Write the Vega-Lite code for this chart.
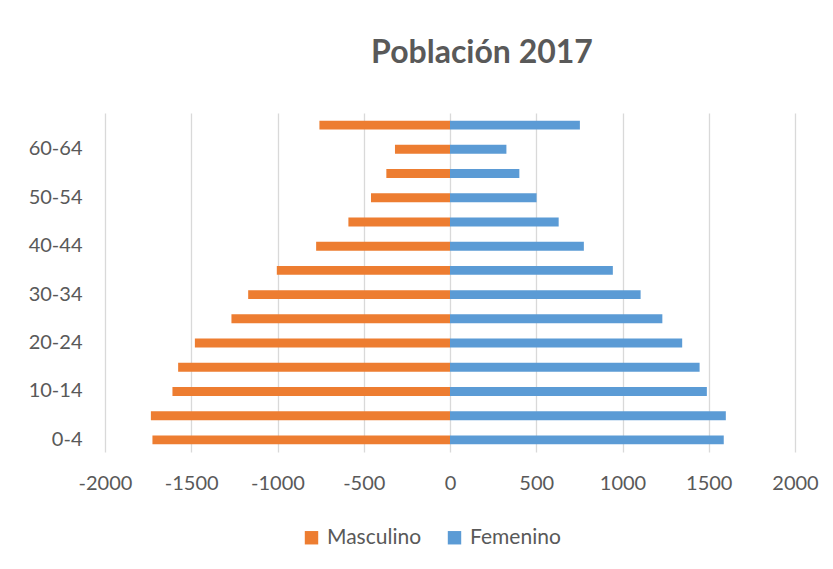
{
  "$schema": "https://vega.github.io/schema/vega-lite/v6.json",
  "width": 690,
  "height": 339,
  "autosize": {"type": "none"},
  "padding": {"left": 105, "top": 113, "right": 38, "bottom": 117},
  "background": "white",
  "title": {
    "text": "Población 2017",
    "font": "Lato",
    "fontSize": 32,
    "fontWeight": "bold",
    "color": "#595959",
    "anchor": "middle",
    "dx": 32,
    "offset": 43
  },
  "data": {
    "values": [
      {"age": "0-4", "sex": "Masculino", "value": -1725},
      {"age": "5-9", "sex": "Masculino", "value": -1734},
      {"age": "10-14", "sex": "Masculino", "value": -1609},
      {"age": "15-19", "sex": "Masculino", "value": -1576},
      {"age": "20-24", "sex": "Masculino", "value": -1479},
      {"age": "25-29", "sex": "Masculino", "value": -1267},
      {"age": "30-34", "sex": "Masculino", "value": -1170},
      {"age": "35-39", "sex": "Masculino", "value": -1004},
      {"age": "40-44", "sex": "Masculino", "value": -776},
      {"age": "45-49", "sex": "Masculino", "value": -589},
      {"age": "50-54", "sex": "Masculino", "value": -458},
      {"age": "55-59", "sex": "Masculino", "value": -369},
      {"age": "60-64", "sex": "Masculino", "value": -319},
      {"age": "65+", "sex": "Masculino", "value": -757},
      {"age": "0-4", "sex": "Femenino", "value": 1587},
      {"age": "5-9", "sex": "Femenino", "value": 1599},
      {"age": "10-14", "sex": "Femenino", "value": 1489},
      {"age": "15-19", "sex": "Femenino", "value": 1447},
      {"age": "20-24", "sex": "Femenino", "value": 1346},
      {"age": "25-29", "sex": "Femenino", "value": 1231},
      {"age": "30-34", "sex": "Femenino", "value": 1105},
      {"age": "35-39", "sex": "Femenino", "value": 944},
      {"age": "40-44", "sex": "Femenino", "value": 776},
      {"age": "45-49", "sex": "Femenino", "value": 630},
      {"age": "50-54", "sex": "Femenino", "value": 502},
      {"age": "55-59", "sex": "Femenino", "value": 402},
      {"age": "60-64", "sex": "Femenino", "value": 327},
      {"age": "65+", "sex": "Femenino", "value": 753}
    ]
  },
  "mark": {"type": "bar"},
  "encoding": {
    "y": {
      "field": "age",
      "type": "nominal",
      "sort": ["65+", "60-64", "55-59", "50-54", "45-49", "40-44", "35-39", "30-34", "25-29", "20-24", "15-19", "10-14", "5-9", "0-4"],
      "scale": {"paddingInner": 0.63, "paddingOuter": 0.315},
      "axis": {
        "title": null,
        "values": ["60-64", "50-54", "40-44", "30-34", "20-24", "10-14", "0-4"],
        "domain": false,
        "ticks": false,
        "grid": false,
        "labelFont": "Lato",
        "labelFontSize": 20,
        "labelColor": "#595959",
        "labelPadding": 23
      }
    },
    "x": {
      "field": "value",
      "type": "quantitative",
      "scale": {"domain": [-2000, 2000], "nice": false},
      "axis": {
        "title": null,
        "values": [-2000, -1500, -1000, -500, 0, 500, 1000, 1500, 2000],
        "labelExpr": "datum.value < 0 ? '-' + abs(datum.value) : '' + datum.value",
        "domain": false,
        "ticks": false,
        "grid": true,
        "gridColor": "#D9D9D9",
        "gridWidth": 1.3,
        "labelFont": "Lato",
        "labelFontSize": 20,
        "labelColor": "#595959",
        "labelPadding": 21,
        "labelFlush": false
      }
    },
    "color": {
      "field": "sex",
      "type": "nominal",
      "scale": {"domain": ["Masculino", "Femenino"], "range": ["#ED7D31", "#5B9BD5"]},
      "legend": {
        "title": null,
        "orient": "none",
        "direction": "horizontal",
        "legendX": 196,
        "legendY": 414,
        "symbolType": "square",
        "symbolSize": 180,
        "symbolStrokeWidth": 0,
        "symbolOpacity": 1,
        "labelFont": "Lato",
        "labelFontSize": 21,
        "labelColor": "#595959",
        "labelOffset": 5,
        "columnPadding": 22
      }
    }
  },
  "config": {"view": {"stroke": null}}
}
